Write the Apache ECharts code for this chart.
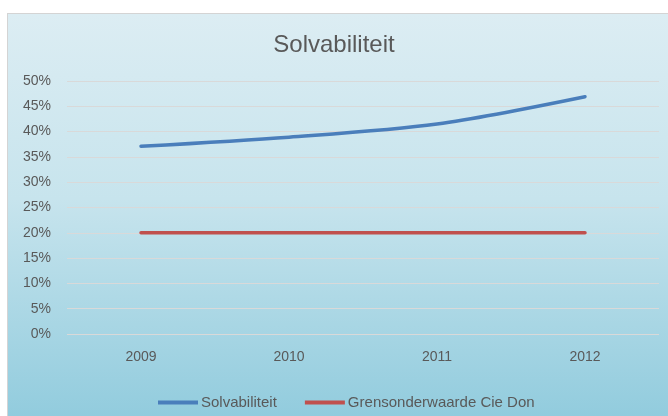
<!DOCTYPE html>
<html>
<head>
    <meta charset="utf-8">
    <title>Solvabiliteit</title>
    <script src="https://cdn.jsdelivr.net/npm/echarts@6.0.0/dist/echarts.min.js"></script>
    <style>
        body {
            margin: 0;
            background: #ffffff;
            width: 668px;
            height: 416px;
            overflow: hidden;
            position: relative;
        }

        .frame {
            position: absolute;
            left: 7px;
            top: 13px;
            width: 670px;
            height: 410px;
            border: 1px solid #d4d4d4;
            background: linear-gradient(180deg, #dcedf3 0%, #c7e4ed 45%, #90cbdd 100%);
        }

        #chart {
            position: absolute;
            left: 0;
            top: 0;
            width: 668px;
            height: 416px;
        }
    </style>
</head>
<body>
    <div class="frame"></div>
    <div id="chart"></div>

    <script>
        // gegevens
        var jaren = ['2009', '2010', '2011', '2012'];
        var solvabiliteit = [37.1, 38.9, 41.5, 46.9];
        var grenswaarde = [20, 20, 20, 20];

        var tekstKleur = '#595959';
        var lettertype = '"Liberation Sans", "Noto Sans", sans-serif';

        var myChart = echarts.init(document.getElementById('chart'));

        var option = {
            backgroundColor: 'transparent',
            animation: false,
            title: {
                text: 'Solvabiliteit',
                left: 'center',
                top: 28,
                textStyle: {
                    color: tekstKleur,
                    fontSize: 24,
                    fontWeight: 'normal',
                    fontFamily: lettertype
                }
            },
            legend: {
                left: 153,
                top: 390,
                itemWidth: 40,
                itemHeight: 4,
                itemGap: 28,
                icon: 'rect',
                textStyle: {
                    color: tekstKleur,
                    fontSize: 15,
                    fontFamily: lettertype,
                    padding: [0, 0, 0, -2]
                },
                data: ['Solvabiliteit', 'Grensonderwaarde Cie Don']
            },
            grid: {
                left: 67,
                right: 9,
                top: 81,
                bottom: 82
            },
            xAxis: {
                type: 'category',
                data: jaren,
                boundaryGap: true,
                axisLine: { show: false },
                axisTick: { show: false },
                axisLabel: {
                    color: tekstKleur,
                    fontSize: 14,
                    fontFamily: lettertype,
                    margin: 16
                }
            },
            yAxis: {
                type: 'value',
                min: 0,
                max: 50,
                interval: 5,
                axisLine: { show: false },
                axisTick: { show: false },
                axisLabel: {
                    formatter: '{value}%',
                    color: tekstKleur,
                    fontSize: 14,
                    fontFamily: lettertype,
                    margin: 16
                },
                splitLine: {
                    lineStyle: { color: '#d9d9d9', width: 1 }
                }
            },
            series: [
                {
                    name: 'Solvabiliteit',
                    type: 'line',
                    data: solvabiliteit,
                    smooth: 0.3,
                    symbol: 'none',
                    lineStyle: { color: '#4a7ebb', width: 3.5, cap: 'round' },
                    itemStyle: { color: '#4a7ebb' }
                },
                {
                    name: 'Grensonderwaarde Cie Don',
                    type: 'line',
                    data: grenswaarde,
                    symbol: 'none',
                    lineStyle: { color: '#c0504d', width: 3.5, cap: 'round' },
                    itemStyle: { color: '#c0504d' }
                }
            ]
        };

        myChart.setOption(option);
    </script>
</body>
</html>
